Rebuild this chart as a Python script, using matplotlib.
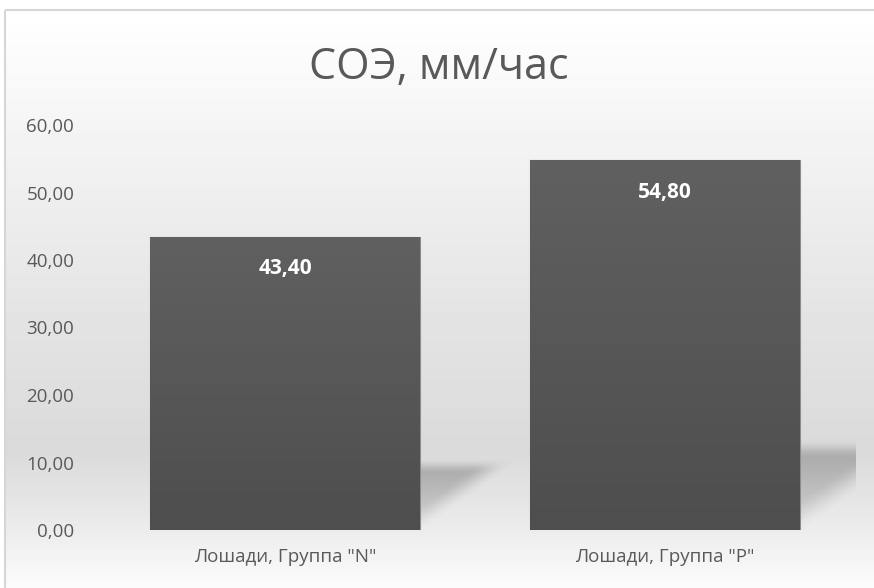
"""Bar chart of ESR (СОЭ) for two horse groups."""

import matplotlib

matplotlib.use("Agg")
import matplotlib.pyplot as plt
import numpy as np
from matplotlib.colors import LinearSegmentedColormap
from matplotlib.patches import Rectangle

TITLE = "СОЭ, мм/час"
CATEGORIES = ['Лошади, Группа "N"', 'Лошади, Группа "P"']
VALUES = [43.40, 54.80]
Y_TICKS = [0, 10, 20, 30, 40, 50, 60]

W, H = 874, 588
plt.rcParams["font.family"] = ["Open Sans", "DejaVu Sans"]

fig = plt.figure(figsize=(W / 100, H / 100), dpi=100)

# background panel with vertical gradient
bg = fig.add_axes([0, 0, 1, 1], zorder=0)
bg.set_xlim(0, W)
bg.set_ylim(H, 0)
bg.axis("off")
stops_y = [10, 300, 450, 530, 588]
stops_c = [255, 229, 218, 236, 252]
rows = np.interp(np.arange(10, H), stops_y, stops_c) / 255.0
grad = np.repeat(rows[:, None], 4, axis=1)
bg.imshow(grad, extent=[5, W, H, 10], cmap="gray", vmin=0, vmax=1,
          aspect="auto", interpolation="nearest")
bg.add_patch(Rectangle((5, 10), W, H, fill=False, edgecolor="#d6d6d6", lw=1.5))

ax = fig.add_axes([95 / W, 58 / H, 760 / W, 405 / H], zorder=1)
ax.patch.set_alpha(0)
x = np.arange(len(CATEGORIES))
width = 0.71
ax.set_xlim(-0.5, len(CATEGORIES) - 0.5)
ax.set_ylim(0, 60)

bars = ax.bar(x, VALUES, width=width, color="#585858", edgecolor="#8c8c8c",
              linewidth=0.8, zorder=3)


def smooth(t):
    t = np.clip(t, 0, 1)
    return t * t * (3 - 2 * t)


# soft perspective shadows to the right of each bar
for bar in bars:
    x1 = bar.get_x() + bar.get_width()
    h = bar.get_height() * 0.245
    d = bar.get_height() * 0.006
    u = np.linspace(0, 1.15, 230)[None, :]
    v = np.linspace(0, 1, 160)[:, None]
    alpha = (0.42 * smooth((v - u + 0.05) / 0.4) * smooth((1.0 - v) / 0.22)
             * (0.35 + 0.65 * v))
    rgba = np.zeros(alpha.shape + (4,))
    rgba[..., :3] = 0.35
    rgba[..., 3] = alpha
    ax.imshow(rgba, extent=[x1, x1 + 1.15 * d, 0, h], origin="lower",
              aspect="auto", zorder=2, interpolation="bilinear")

# vertical gradient inside bars
cmap = LinearSegmentedColormap.from_list("bar", ["#4e4e4e", "#606060"])
for bar in bars:
    im = ax.imshow(np.linspace(0, 1, 64)[:, None], cmap=cmap, aspect="auto",
                   origin="lower", extent=[bar.get_x(), bar.get_x() + bar.get_width(),
                                           0, bar.get_height()], zorder=3.5)
    im.set_clip_path(bar)

for xi, v in zip(x, VALUES):
    ax.annotate(f"{v:.2f}".replace(".", ","), (xi, v), xytext=(0, -23),
                textcoords="offset points", ha="center", va="center",
                color="white", fontsize=15, fontweight="bold", zorder=5)

ax.set_xticks(x)
ax.set_xticklabels(CATEGORIES)
ax.set_yticks(Y_TICKS)
ax.set_yticklabels([f"{t:.2f}".replace(".", ",") for t in Y_TICKS])
ax.tick_params(length=0, colors="#595959")
ax.tick_params(axis="x", pad=13, labelsize=13.5)
ax.tick_params(axis="y", pad=15, labelsize=13.5)
for spine in ax.spines.values():
    spine.set_visible(False)
ax.set_xlim(-0.5, len(CATEGORIES) - 0.5)
ax.set_ylim(0, 60)

fig.text(439 / W, 1 - 68 / H, TITLE, ha="center", va="center",
         fontsize=31, color="#595959")

fig.savefig("out.png", dpi=100)
